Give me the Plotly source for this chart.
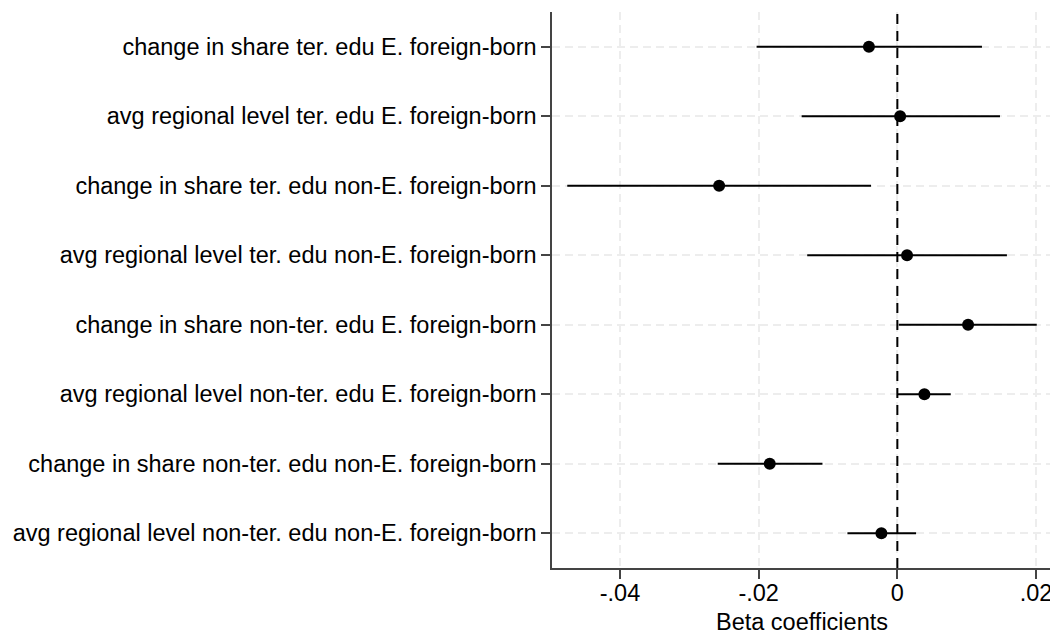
import plotly.graph_objects as go

labels = [
    "change in share ter. edu E. foreign-born",
    "avg regional level ter. edu E. foreign-born",
    "change in share ter. edu non-E. foreign-born",
    "avg regional level ter. edu non-E. foreign-born",
    "change in share non-ter. edu E. foreign-born",
    "avg regional level non-ter. edu E. foreign-born",
    "change in share non-ter. edu non-E. foreign-born",
    "avg regional level non-ter. edu non-E. foreign-born",
]
coef = [-0.0041, 0.0004, -0.0257, 0.0014, 0.0102, 0.0039, -0.0184, -0.0023]
ci_low = [-0.0203, -0.0138, -0.0476, -0.0130, 0.0002, 0.0000, -0.0259, -0.0072]
ci_high = [0.0122, 0.0148, -0.0038, 0.0158, 0.0201, 0.0077, -0.0108, 0.0027]
xtick_vals = [-0.04, -0.02, 0, 0.02]
xtick_text = ["-.04", "-.02", "0", ".02"]

pos = list(range(1, len(labels) + 1))
err_plus = [h - c for h, c in zip(ci_high, coef)]
err_minus = [c - l for c, l in zip(coef, ci_low)]

fig = go.Figure()
fig.add_trace(go.Scatter(
    x=coef, y=pos, mode="markers",
    marker=dict(color="black", size=12, symbol="circle"),
    error_x=dict(type="data", array=err_plus, arrayminus=err_minus,
                 symmetric=False, color="black", thickness=2.2, width=0),
    showlegend=False, hoverinfo="skip",
))

fig.add_shape(type="line", xref="x", yref="paper", x0=0, x1=0, y0=0, y1=1,
              line=dict(color="black", width=2, dash="10px,7px"), layer="above")

font_family = "Liberation Sans, Arial, Helvetica, sans-serif"
fig.update_layout(
    width=1050, height=631,
    margin=dict(l=544, r=6, t=4, b=71),
    paper_bgcolor="white", plot_bgcolor="white",
    font=dict(family=font_family, size=23.5, color="black"),
    xaxis=dict(
        range=[-0.0498, 0.0223],
        tickvals=xtick_vals, ticktext=xtick_text,
        showgrid=True, gridcolor="#ededed", gridwidth=1.5, griddash="8px,5px",
        zeroline=False,
        showline=True, linecolor="#444444", linewidth=1.5,
        ticks="outside", ticklen=9, tickcolor="#444444", tickwidth=1.5,
        tickfont=dict(size=23.5), ticklabelstandoff=-6,
        title=dict(text="Beta coefficients", font=dict(size=23.5), standoff=9),
        automargin=False,
    ),
    yaxis=dict(
        range=[8.5, 0.5],
        tickvals=pos, ticktext=labels,
        showgrid=True, gridcolor="#ededed", gridwidth=1.5, griddash="8px,5px",
        zeroline=False,
        showline=True, linecolor="#444444", linewidth=1.5,
        ticks="outside", ticklen=9, tickcolor="#444444", tickwidth=1.5,
        tickfont=dict(size=23.5),
        automargin=False,
    ),
)

fig.write_html("out.html")
